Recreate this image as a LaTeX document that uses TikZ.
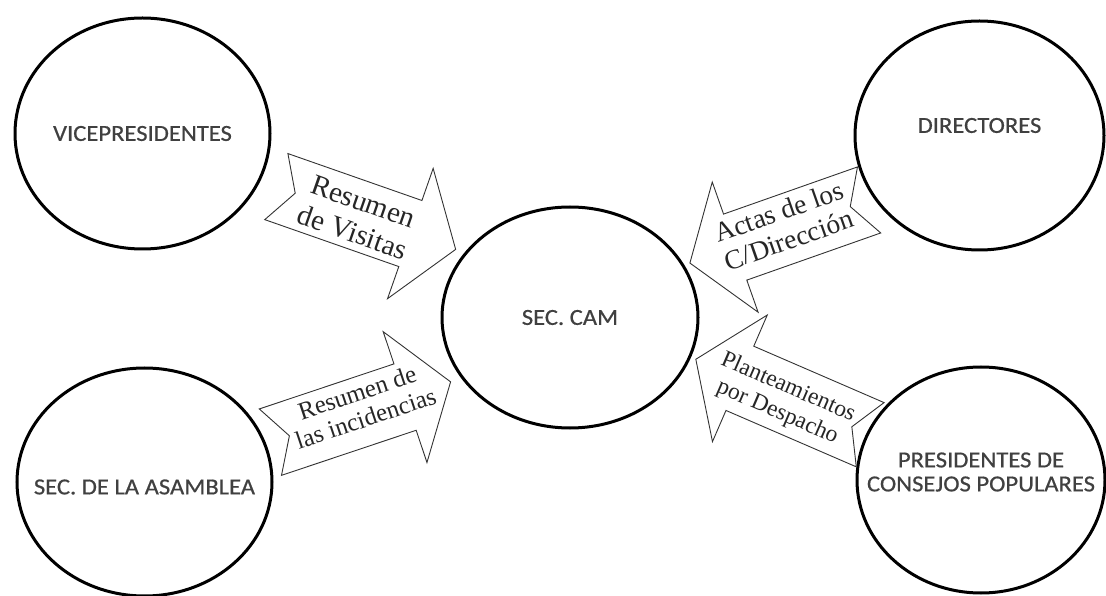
\documentclass[tikz,border=0pt]{standalone}
\usepackage{fontspec}
\usepackage{tikz}
\usetikzlibrary{shapes.geometric}
\newfontfamily\calibri[FakeStretch=1.07, FakeBold=0.6]{Carlito}
\newfontfamily\serifa{Liberation Serif}

\begin{document}
\begin{tikzpicture}[x=1pt,y=1pt]
\tikzset{
	circulo/.style = {ellipse, draw, line width=3pt, inner sep=0},
	nombre/.style = {align=center, inner sep=0, text=black!75, font=\calibri\fontsize{23}{24}\selectfont},
	borde/.style = {draw=black!80, line width=0.9pt, line join=miter, fill=white},
	texto/.style = {align=center, inner sep=0, text=black!85},
	pics/flecha/.style = {code = {
		\draw[borde] (-95,35) -- (47,35) -- (47,69) -- (95,0) -- (47,-69) -- (47,-35) -- (-95,-35) -- (-75,0) -- cycle;
	}}
}
\useasboundingbox (0,0) rectangle (1106,595);

% circulos
\node(vice) [circulo, minimum width=255, minimum height=231, label={[nombre]center:VICEPRESIDENTES}] at (142.5,461.5) {};
\node(asam) [circulo, minimum width=255, minimum height=228, label={[nombre, yshift=-5]center:SEC. DE LA ASAMBLEA}] at (144.5,113) {};
\node(cam) [circulo, minimum width=256, minimum height=221, label={[nombre]center:SEC. CAM}] at (570,277.5) {};
\node(dir) [circulo, minimum width=249, minimum height=229, label={[nombre, yshift=10]center:DIRECTORES}] at (979.5,459.5) {};
\node(pres) [circulo, minimum width=248, minimum height=226, label={[nombre, yshift=8]center:{PRESIDENTES DE\\CONSEJOS POPULARES}}] at (981,115) {};

% flechas
\pic[rotate=-19.3] (f1) at (366,377) {flecha};
\pic[rotate=18.5] (f2) at (360.5,183) {flecha};
\pic[rotate=199.4] (f3) at (779.5,363.5) {flecha};
\pic[rotate=156.6] (f4) at (783,198) {flecha};

\node(t1) [texto, rotate=-19.3, font=\serifa\fontsize{29}{32.5}\selectfont] at (357.8,377.8) {Resumen\\de Visitas};
\node(t2) [texto, rotate=18.5, font=\serifa\fontsize{25}{27}\selectfont] at (361.4,189.6) {Resumen de\\las incidencias};
\node(t3) [texto, rotate=19.4, font=\serifa\fontsize{27.5}{30}\selectfont] at (783.8,369.3) {Actas de los\\C/Dirección};
\node(t4) [texto, rotate=-23.4, font=\serifa\fontsize{23.5}{27}\selectfont] at (782.7,194.8) {Planteamientos\\por Despacho};

\end{tikzpicture}
\end{document}
